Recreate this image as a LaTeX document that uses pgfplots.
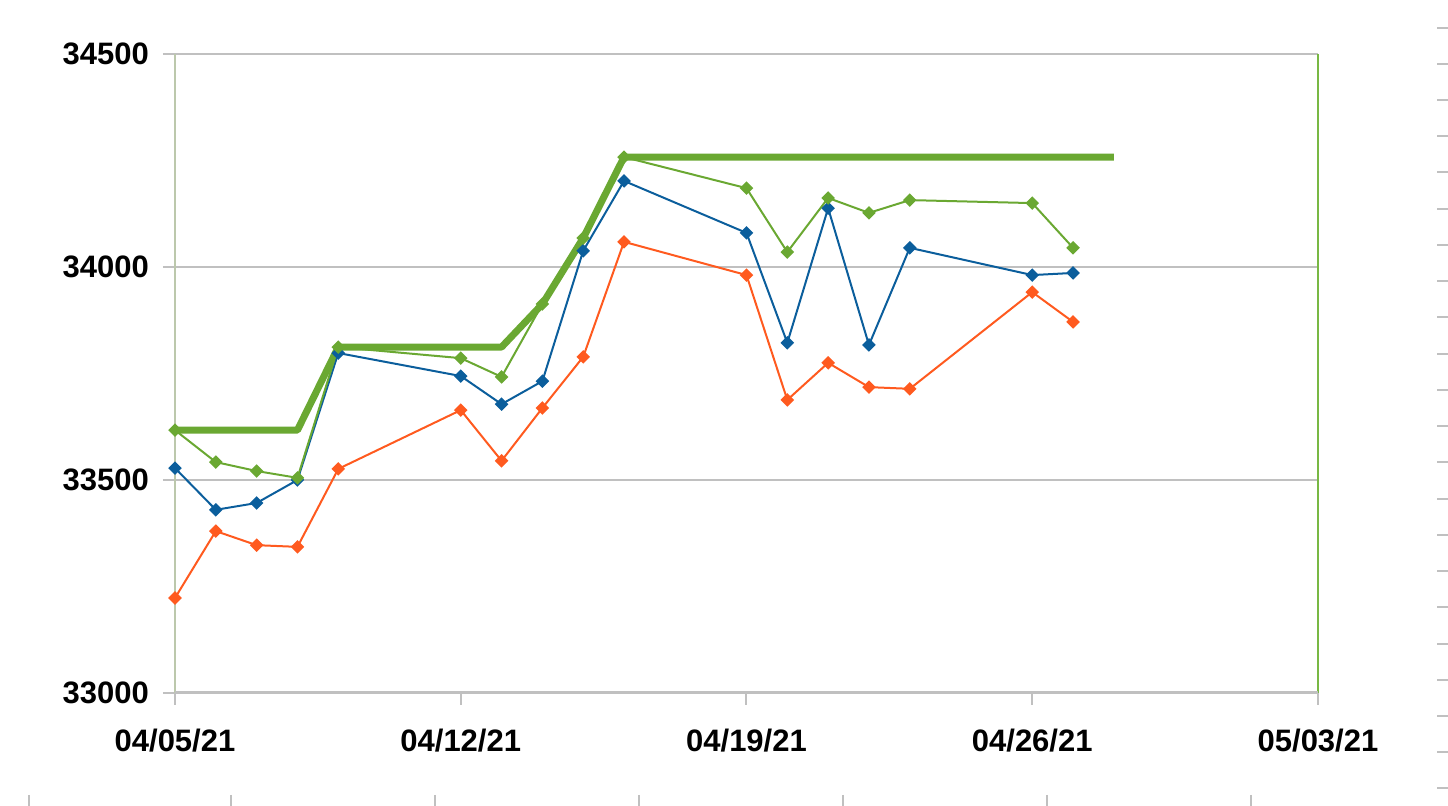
\documentclass[border=0pt]{standalone}
\usepackage{pgfplots}
\pgfplotsset{compat=1.18}
\usepackage{fontspec}
\setmainfont{Liberation Sans}
\definecolor{cblue}{HTML}{0B5E9C}
\definecolor{corange}{HTML}{FF5A1F}
\definecolor{cgreen}{HTML}{6AA832}
\definecolor{cgrid}{HTML}{C0C0C0}
\definecolor{cleft}{HTML}{BCC8AC}
\definecolor{cright}{HTML}{78B844}
\begin{document}
\begin{tikzpicture}
\useasboundingbox (-87.5pt,-56.5pt) rectangle (636.5pt,346.5pt);
\begin{axis}[
  at={(0,0)}, anchor=south west,
  scale only axis, width=571.5pt, height=319.5pt,
  xmin=0, xmax=28, ymin=33000, ymax=34500,
  axis line style={draw=none},
  scaled y ticks=false,
  xtick={0,7,14,21,28},
  xticklabels={04/05/21,04/12/21,04/19/21,04/26/21,05/03/21},
  ytick={33000,33500,34000,34500},
  yticklabels={33000,33500,34000,34500},
  tick align=outside, tick pos=left,
  major tick length=6pt,
  every tick/.style={cgrid, line width=1pt},
  ymajorgrids, major grid style={cgrid, line width=1pt},
  ticklabel style={font=\fontsize{15.5}{18}\selectfont\bfseries, text=black},
  yticklabel style={xshift=-3.5pt},
  xticklabel style={yshift=-8.5pt},
  /pgf/number format/assume math mode=true,
  clip=false,
  mark options={solid, rotate=45},
]
\draw[cleft, line width=1pt] (axis cs:0,33000) -- (axis cs:0,34500);
\draw[cright, line width=1pt] (axis cs:28,33000) -- (axis cs:28,34500);
\draw[cgrid, line width=1.5pt] (axis cs:0,33000) -- (axis cs:28,33000);
% running maximum (thick)
\addplot[cgreen, line width=3.5pt, line join=round, no marks] coordinates {
(0,33617)(3,33617)(4,33812)(8,33812)(9,33913)(10,34068)(11,34258)(23,34258)};
% orange
\addplot[corange, line width=1pt, mark=square*, mark size=1.9pt] coordinates {
(0,33223)(1,33380)(2,33347)(3,33343)(4,33526)(7,33664)(8,33545)(9,33669)(10,33789)(11,34059)
(14,33981)(15,33688)(16,33775)(17,33718)(18,33714)(21,33941)(22,33871)};
% blue
\addplot[cblue, line width=1pt, mark=square*, mark size=1.9pt] coordinates {
(0,33528)(1,33430)(2,33446)(3,33500)(4,33798)(7,33744)(8,33678)(9,33732)(10,34038)(11,34202)
(14,34080)(15,33822)(16,34138)(17,33817)(18,34045)(21,33981)(22,33986)};
% green
\addplot[cgreen, line width=1pt, mark=square*, mark size=1.9pt] coordinates {
(0,33617)(1,33542)(2,33521)(3,33505)(4,33812)(7,33786)(8,33742)(9,33913)(10,34068)(11,34258)
(14,34185)(15,34035)(16,34162)(17,34127)(18,34157)(21,34150)(22,34045)};
\end{axis}
% spreadsheet cell borders
\foreach \py in {28,64,100,136,172,209,245,281,317,354,390,426,462,499,535,571,607,644,680,716,752,788}{
  \draw[cgrid, line width=0.6pt] ({1437/2-87.5pt},{(806-\py)/2-56.5pt}) -- ({1448/2-87.5pt},{(806-\py)/2-56.5pt});
}
\foreach \px in {29,231,435,639,843,1047,1251}{
  \draw[cgrid, line width=0.6pt] ({\px/2-87.5pt},{(806-795)/2-56.5pt}) -- ({\px/2-87.5pt},-56.5pt);
}
\end{tikzpicture}
\end{document}
